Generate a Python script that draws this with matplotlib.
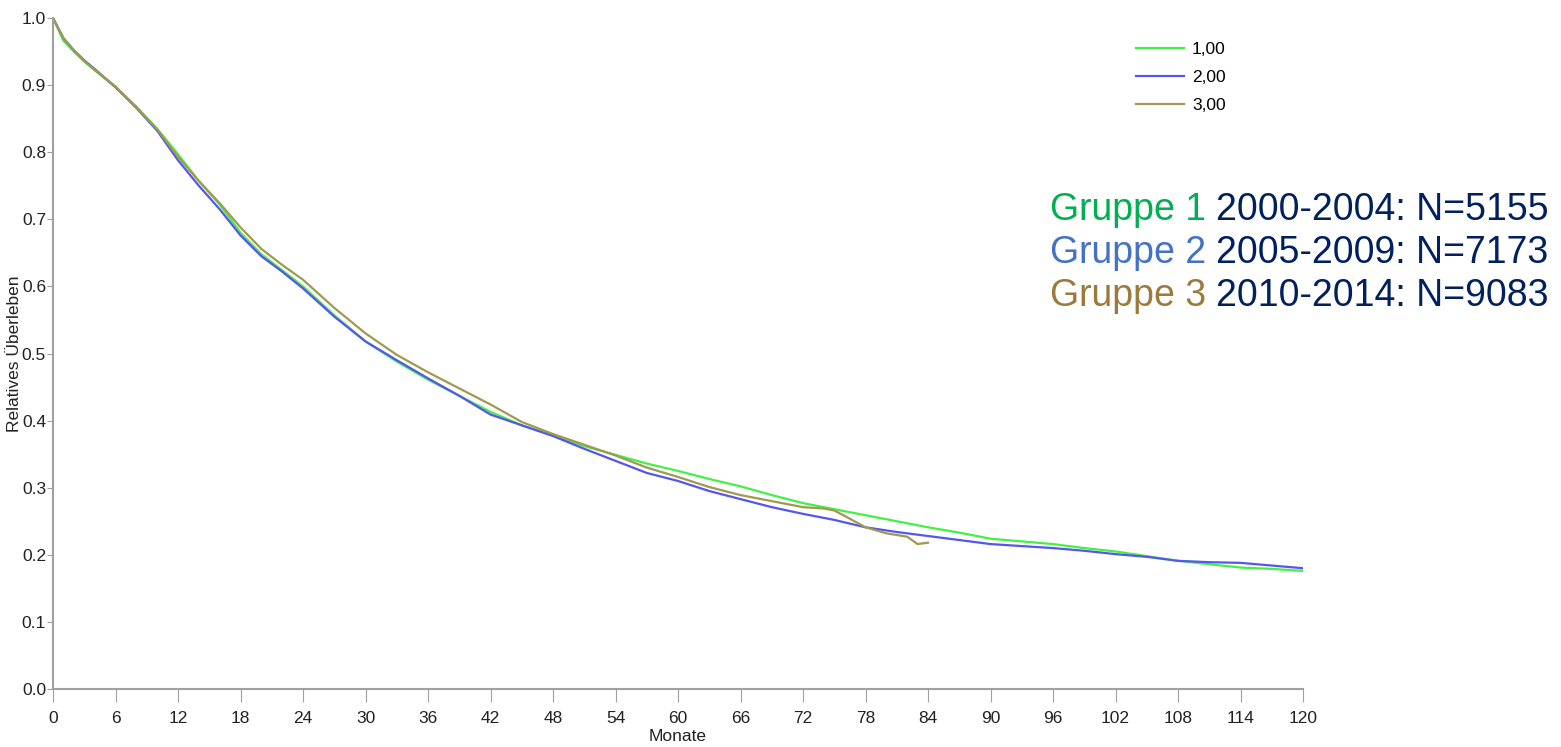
import numpy as np
import matplotlib.pyplot as plt

plt.rcParams['font.family'] = ['Liberation Sans', 'DejaVu Sans']

# survival curves, read at selected months
months_g1 = [0, 1, 2, 3, 4, 6, 8, 10, 12, 14, 16, 18, 20, 22, 24, 27, 30, 33, 36, 39, 42, 45,
             48, 51, 54, 57, 60, 63, 66, 69, 72, 75, 78, 81, 84, 87, 90, 93, 96, 99, 102, 105,
             108, 111, 114, 117, 120]
surv_g1 = [1.0, .966, .950, .935, .922, .897, .868, .835, .797, .757, .722, .680, .648, .624,
           .600, .557, .518, .488, .461, .437, .413, .393, .378, .362, .349, .336, .325, .313,
           .302, .289, .277, .268, .259, .250, .241, .233, .224, .220, .216, .210, .205, .198,
           .191, .186, .181, .179, .176]

months_g2 = months_g1
surv_g2 = [1.0, .970, .952, .937, .924, .897, .866, .832, .788, .750, .715, .676, .645, .622,
           .597, .555, .518, .490, .463, .437, .409, .393, .377, .358, .340, .322, .310, .295,
           .283, .271, .261, .252, .241, .234, .228, .222, .216, .213, .210, .206, .201, .197,
           .191, .189, .188, .184, .180]

months_g3 = [0, 1, 2, 3, 4, 6, 8, 10, 12, 14, 16, 18, 20, 22, 24, 27, 30, 33, 36, 39, 42, 45,
             48, 51, 54, 57, 60, 63, 66, 69, 72, 74, 75, 76, 78, 80, 82, 83, 84]
surv_g3 = [1.0, .970, .952, .936, .923, .898, .867, .834, .793, .757, .724, .688, .656, .632,
           .610, .568, .530, .498, .472, .448, .424, .398, .380, .364, .348, .330, .316, .301,
           .289, .280, .271, .269, .266, .258, .241, .232, .227, .216, .218]

legend_labels = ['1,00', '2,00', '3,00']
line_colors = ['#44f044', '#5555f0', '#a09a50']

group_names = ['Gruppe 1', 'Gruppe 2', 'Gruppe 3']
group_info = ['2000-2004: N=5155', '2005-2009: N=7173', '2010-2014: N=9083']
group_colors = ['#00b050', '#4472c4', '#9c7a3c']

fig = plt.figure(figsize=(15.61, 7.47), dpi=100)
ax = fig.add_axes([53 / 1561, 1 - 689 / 747, 1250 / 1561, 671 / 747])

for m, s, c, lab in zip([months_g1, months_g2, months_g3], [surv_g1, surv_g2, surv_g3],
                        line_colors, legend_labels):
    ax.plot(m, s, color=c, lw=1.6, label=lab)

ax.set_xlim(0, 120)
ax.set_ylim(0, 1.0)
ax.set_xticks(np.arange(0, 121, 6))
ax.set_yticks(np.arange(0, 1.01, 0.1))
ax.set_yticklabels(['%.1f' % v for v in np.arange(0, 1.01, 0.1)])

for side in ['top', 'right']:
    ax.spines[side].set_visible(False)
for side in ['left', 'bottom']:
    ax.spines[side].set_color('#a0a0a0')
    ax.spines[side].set_linewidth(1.5)
ax.tick_params(axis='x', length=9, color='#a0a0a0', labelsize=12.5, pad=7, labelcolor='#222222')
ax.tick_params(axis='y', length=4, color='#a0a0a0', labelsize=12.5, pad=1, labelcolor='#222222')

ax.set_xlabel('Monate', fontsize=12.5, labelpad=2, color='#222222')
ax.set_ylabel('Relatives Überleben', fontsize=12.5, labelpad=0, color='#222222')

fig.legend(loc='upper left', bbox_to_anchor=(1120 / 1561, 1 - 26 / 747), frameon=False,
           fontsize=12.5, handlelength=2.8, handletextpad=0.45, labelspacing=0.75)

# group description block on the right
for i in range(3):
    y = 1 - (210 + 43 * i) / 747
    t = fig.text(1050 / 1561, y, group_names[i] + ' ', color=group_colors[i], fontsize=27,
                 va='center', ha='left')
    fig.canvas.draw()
    bb = t.get_window_extent()
    fig.text(bb.x1 / fig.bbox.width, y, group_info[i], color='#002060', fontsize=27,
             va='center', ha='left')

fig.savefig('out.png', dpi=100)
